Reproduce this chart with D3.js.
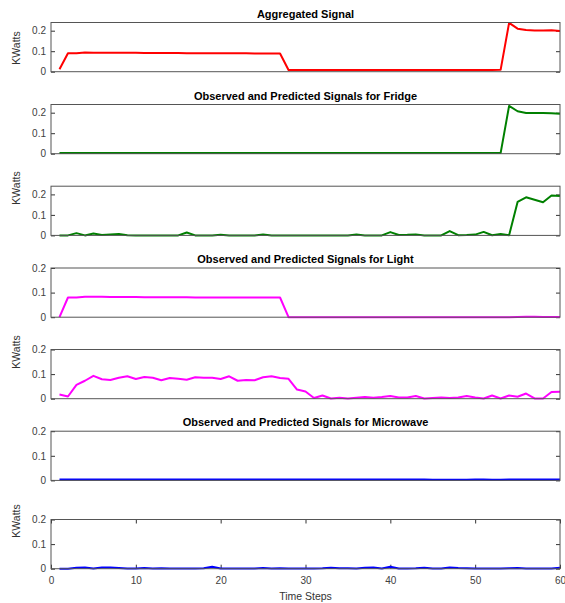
<!DOCTYPE html>
<html>
<head>
<meta charset="utf-8">
<script src="https://cdn.jsdelivr.net/npm/d3@7"></script>
<style>
  html, body { margin: 0; padding: 0; background: #fff; }
  svg { display: block; font-family: "Liberation Sans", Arial, Helvetica, sans-serif; }
</style>
</head>
<body>
<svg id="chart" width="565" height="603"></svg>
<script>
// ---------- data ----------
const timeSteps = d3.range(1, 61);
const xTicks = [0, 10, 20, 30, 40, 50, 60];
const yTicks = [0, 0.1, 0.2];

const aggregated = [
  0.012,0.090,0.090,0.094,0.093,0.093,0.092,0.092,0.092,0.092,
  0.091,0.091,0.091,0.091,0.091,0.090,0.090,0.090,0.090,0.090,
  0.090,0.090,0.090,0.089,0.089,0.089,0.089,0.008,0.008,0.008,
  0.008,0.008,0.008,0.008,0.008,0.008,0.008,0.008,0.008,0.008,
  0.008,0.008,0.008,0.008,0.008,0.008,0.008,0.008,0.008,0.008,
  0.008,0.008,0.009,0.238,0.210,0.203,0.201,0.201,0.202,0.199
];
const fridgeObserved = [
  0.003,0.003,0.003,0.003,0.003,0.003,0.003,0.003,0.003,0.003,
  0.003,0.003,0.003,0.003,0.003,0.003,0.003,0.003,0.003,0.003,
  0.003,0.003,0.003,0.003,0.003,0.003,0.003,0.003,0.003,0.003,
  0.003,0.003,0.003,0.003,0.003,0.003,0.003,0.003,0.003,0.003,
  0.003,0.003,0.003,0.003,0.003,0.003,0.003,0.003,0.003,0.003,
  0.003,0.003,0.003,0.233,0.207,0.199,0.198,0.199,0.197,0.195
];
const fridgePredicted = [
  0.000,0.000,0.011,0.000,0.009,0.002,0.005,0.007,0.001,0.000,
  0.000,0.000,0.000,0.000,0.000,0.014,0.000,0.000,0.000,0.003,
  0.000,0.000,0.000,0.000,0.004,0.000,0.000,0.000,0.000,0.000,
  0.000,0.000,0.000,0.000,0.000,0.004,0.000,0.000,0.000,0.016,
  0.002,0.003,0.005,0.000,0.000,0.000,0.021,0.001,0.002,0.004,
  0.017,0.001,0.007,0.001,0.163,0.186,0.174,0.162,0.195,0.192
];
const lightObserved = [
  0.000,0.080,0.080,0.083,0.083,0.083,0.082,0.082,0.082,0.082,
  0.081,0.081,0.081,0.081,0.081,0.081,0.080,0.080,0.080,0.080,
  0.080,0.080,0.080,0.080,0.080,0.080,0.080,0.000,0.000,0.000,
  0.000,0.000,0.000,0.000,0.000,0.000,0.000,0.000,0.000,0.000,
  0.000,0.000,0.000,0.000,0.000,0.000,0.000,0.000,0.000,0.000,
  0.000,0.000,0.000,0.000,0.001,0.002,0.002,0.001,0.001,0.001
];
const lightPredicted = [
  0.017,0.009,0.056,0.073,0.093,0.079,0.076,0.085,0.091,0.080,
  0.088,0.085,0.075,0.084,0.081,0.077,0.087,0.085,0.085,0.080,
  0.091,0.073,0.076,0.075,0.087,0.091,0.084,0.081,0.037,0.029,
  0.003,0.013,0.001,0.004,0.001,0.004,0.007,0.004,0.007,0.011,
  0.005,0.005,0.011,0.001,0.003,0.005,0.003,0.005,0.011,0.005,
  0.001,0.013,0.001,0.013,0.008,0.021,0.001,0.001,0.027,0.028
];
const microwaveObserved = [
  0.004,0.004,0.004,0.004,0.004,0.004,0.004,0.004,0.004,0.004,
  0.004,0.004,0.004,0.004,0.004,0.004,0.004,0.004,0.004,0.004,
  0.004,0.004,0.004,0.004,0.004,0.004,0.004,0.004,0.004,0.004,
  0.004,0.004,0.004,0.004,0.004,0.004,0.004,0.004,0.004,0.004,
  0.004,0.004,0.004,0.004,0.003,0.003,0.003,0.003,0.003,0.004,
  0.004,0.003,0.003,0.004,0.004,0.004,0.004,0.004,0.004,0.004
];
const microwavePredicted = [
  0.000,0.000,0.004,0.005,0.001,0.005,0.005,0.003,0.001,0.001,
  0.003,0.001,0.002,0.001,0.001,0.001,0.001,0.002,0.008,0.001,
  0.001,0.001,0.001,0.001,0.003,0.001,0.002,0.001,0.001,0.001,
  0.001,0.002,0.004,0.002,0.002,0.001,0.004,0.005,0.001,0.008,
  0.001,0.001,0.002,0.004,0.001,0.001,0.005,0.003,0.002,0.001,
  0.001,0.001,0.001,0.002,0.003,0.001,0.001,0.001,0.001,0.004
];

const panelTitles = [
  "Aggregated Signal",
  "Observed and Predicted Signals for Fridge",
  null,
  "Observed and Predicted Signals for Light",
  null,
  "Observed and Predicted Signals for Microwave",
  null
];
const panelSeries = [aggregated, fridgeObserved, fridgePredicted, lightObserved, lightPredicted, microwaveObserved, microwavePredicted];
const panelMax = [0.24, 0.24, 0.24, 0.2, 0.2, 0.2, 0.2];
const panelColors = ["#ff0000", "#008000", "#008000", "#ff00ff", "#ff00ff", "#0000ff", "#0000ff"];
const panelHasYLabel = [true, false, true, false, true, false, true];

// ---------- layout ----------
const svg = d3.select("#chart");
const left = 51, right = 560;
const panelTops = [22.5, 104.5, 186.2, 268, 349.5, 431.2, 519.5];
const panelH = 49.2;
const yLabelCenters = [48, null, 188, null, 352, null, 521];

const x = d3.scaleLinear().domain([0, 60]).range([left, right]);
const fmt = d => d === 0 ? "0" : d3.format(".1f")(d);

panelSeries.forEach((series, i) => {
  const top = panelTops[i], bottom = top + panelH;
  const y = d3.scaleLinear().domain([0, panelMax[i]]).range([bottom, top]);
  const g = svg.append("g");

  // left axis
  const la = g.append("g").attr("transform", `translate(${left},0)`)
    .call(d3.axisLeft(y).tickValues(yTicks).tickFormat(fmt).tickSize(-4).tickPadding(5));
  // right axis
  const ra = g.append("g").attr("transform", `translate(${right},0)`)
    .call(d3.axisRight(y).tickValues(yTicks).tickFormat("").tickSize(-4));
  [la, ra].forEach(a => {
    a.select(".domain").remove();
    a.selectAll(".tick line").attr("stroke", "#333").attr("stroke-width", 1);
    a.selectAll(".tick text").attr("fill", "#404040").style("font-size", "10px");
  });

  if (i === 6) {
    const ba = g.append("g").attr("transform", `translate(0,${bottom})`)
      .call(d3.axisBottom(x).tickValues(xTicks).tickSize(-4).tickPadding(8));
    const ta = g.append("g").attr("transform", `translate(0,${top})`)
      .call(d3.axisTop(x).tickValues(xTicks).tickFormat("").tickSize(-4));
    [ba, ta].forEach(a => {
      a.select(".domain").remove();
      a.selectAll(".tick line").attr("stroke", "#333").attr("stroke-width", 1);
      a.selectAll(".tick text").attr("fill", "#404040").style("font-size", "10px");
    });
    g.append("text").attr("x", (left + right) / 2).attr("y", 600)
      .attr("text-anchor", "middle").attr("fill", "#333").style("font-size", "10.5px")
      .text("Time Steps");
  }

  // data line
  const line = d3.line().x((d, j) => x(timeSteps[j])).y(d => y(d));
  g.append("path").datum(series)
    .attr("d", line)
    .attr("fill", "none")
    .attr("stroke", panelColors[i])
    .attr("stroke-width", 2)
    .attr("stroke-linejoin", "round");

  // box
  g.append("rect").attr("x", left).attr("y", top)
    .attr("width", right - left).attr("height", panelH)
    .attr("fill", "none").attr("stroke", "#555").attr("stroke-width", 1);

  if (panelTitles[i]) {
    g.append("text").attr("x", (left + right) / 2).attr("y", top - 5)
      .attr("text-anchor", "middle").attr("fill", "#000")
      .style("font-size", "11px").style("font-weight", "bold")
      .text(panelTitles[i]);
  }
  if (panelHasYLabel[i]) {
    g.append("text")
      .attr("transform", `translate(20,${yLabelCenters[i]}) rotate(-90)`)
      .attr("text-anchor", "middle").attr("fill", "#333")
      .style("font-size", "10.5px")
      .text("KWatts");
  }
});
</script>
</body>
</html>
